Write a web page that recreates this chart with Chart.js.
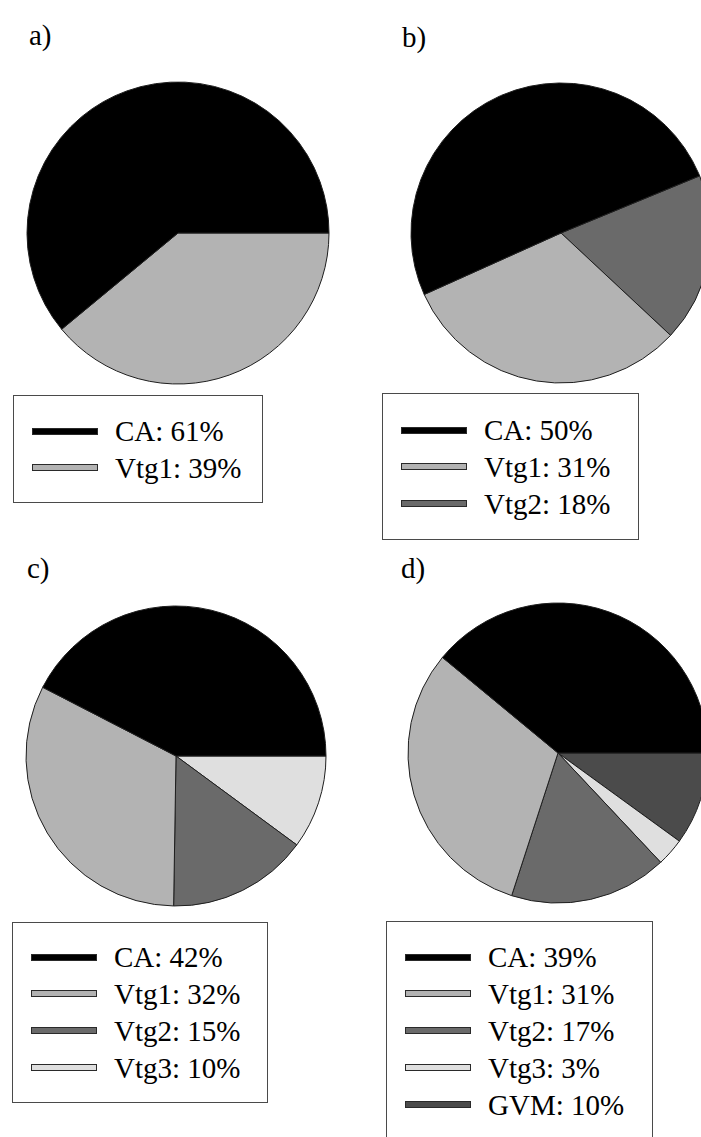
<!DOCTYPE html>
<html><head><meta charset="utf-8">
<script src="https://cdn.jsdelivr.net/npm/chart.js@4/dist/chart.umd.min.js"></script>
<style>
html,body{margin:0;padding:0;background:#fff;}
body{width:701px;height:1137px;overflow:hidden;position:relative;font-family:"Liberation Serif","Times New Roman",serif;color:#000;}
.lbl{position:absolute;font-size:29px;line-height:29px;white-space:nowrap;}
canvas{position:absolute;}
.leg{position:absolute;border:1px solid #4a4a4a;box-sizing:border-box;background:#fff;}
.row{position:absolute;height:36px;display:flex;align-items:center;font-size:29px;line-height:36px;white-space:nowrap;}
.sw{display:inline-block;width:66px;height:7px;box-sizing:border-box;border:1px solid #2a2a2a;margin-right:17px;}
</style></head><body>
<div class="lbl" id="la">a)</div>
<div class="lbl" id="lb">b)</div>
<div class="lbl" id="lc">c)</div>
<div class="lbl" id="ld">d)</div>
<canvas id="pa" width="320" height="320"></canvas>
<canvas id="pb" width="320" height="320"></canvas>
<canvas id="pc" width="320" height="320"></canvas>
<canvas id="pd" width="320" height="320"></canvas>
<div class="leg" id="ga"></div>
<div class="leg" id="gb"></div>
<div class="leg" id="gc"></div>
<div class="leg" id="gd"></div>
<script>
// ---- data ----
const panelTitles = ['a)', 'b)', 'c)', 'd)'];
const labelsA = ['CA', 'Vtg1'];
const valuesA = [61, 39];
const labelsB = ['CA', 'Vtg1', 'Vtg2'];
const valuesB = [50, 31, 18];
const labelsC = ['CA', 'Vtg1', 'Vtg2', 'Vtg3'];
const valuesC = [42, 32, 15, 10];
const labelsD = ['CA', 'Vtg1', 'Vtg2', 'Vtg3', 'GVM'];
const valuesD = [39, 31, 17, 3, 10];

// ---- styles ----
const colorMap = {CA: '#000000', Vtg1: '#b3b3b3', Vtg2: '#6a6a6a', Vtg3: '#dfdfdf', GVM: '#4b4b4b'};

// ---- layout ----
const panels = [
  {title: 'la', tx: 29, ty: 21, canvas: 'pa', cx: 178, cy: 233, r: 151, rot: 90,
   leg: 'ga', lx: 13, ly: 395, lw: 250, lh: 108, first: 36, labels: labelsA, values: valuesA},
  {title: 'lb', tx: 402, ty: 23, canvas: 'pb', cx: 561, cy: 233, r: 150, rot: 67.6,
   leg: 'gb', lx: 382, ly: 393, lw: 257, lh: 147, first: 37, labels: labelsB, values: valuesB},
  {title: 'lc', tx: 27, ty: 554, canvas: 'pc', cx: 176, cy: 756, r: 150, rot: 90,
   leg: 'gc', lx: 12, ly: 922, lw: 256, lh: 181, first: 35, labels: labelsC, values: valuesC},
  {title: 'ld', tx: 401, ty: 554, canvas: 'pd', cx: 558, cy: 753, r: 150, rot: 90,
   leg: 'gd', lx: 386, ly: 921, lw: 267, lh: 260, first: 36, labels: labelsD, values: valuesD}
];
const pitch = 36.9;

panels.forEach((p, k) => {
  const t = document.getElementById(p.title);
  t.textContent = panelTitles[k];
  t.style.left = p.tx + 'px';
  t.style.top = p.ty + 'px';

  const cv = document.getElementById(p.canvas);
  cv.style.left = (p.cx - 160) + 'px';
  cv.style.top = (p.cy - 160) + 'px';
  // reverse so that the clockwise drawing reproduces the counter-clockwise order of the original
  const rl = p.labels.slice().reverse();
  const rv = p.values.slice().reverse();
  new Chart(cv, {
    type: 'pie',
    data: {
      labels: rl,
      datasets: [{
        data: rv,
        backgroundColor: rl.map(l => colorMap[l]),
        borderColor: '#1e1e1e',
        borderWidth: 1,
        radius: p.r
      }]
    },
    options: {
      responsive: false,
      animation: false,
      rotation: p.rot,
      events: [],
      layout: {padding: 0},
      plugins: {legend: {display: false}, tooltip: {enabled: false}}
    }
  });

  const g = document.getElementById(p.leg);
  g.style.left = p.lx + 'px';
  g.style.top = p.ly + 'px';
  g.style.width = p.lw + 'px';
  g.style.height = p.lh + 'px';
  p.labels.forEach((l, i) => {
    const row = document.createElement('div');
    row.className = 'row';
    row.style.left = (19 - 1) + 'px';
    row.style.top = (p.first + i * pitch - 18 - 1) + 'px';
    const sw = document.createElement('span');
    sw.className = 'sw';
    sw.style.background = colorMap[l];
    const tx = document.createElement('span');
    tx.textContent = l + ': ' + p.values[i] + '%';
    row.appendChild(sw);
    row.appendChild(tx);
    g.appendChild(row);
  });
});
</script>
</body></html>
